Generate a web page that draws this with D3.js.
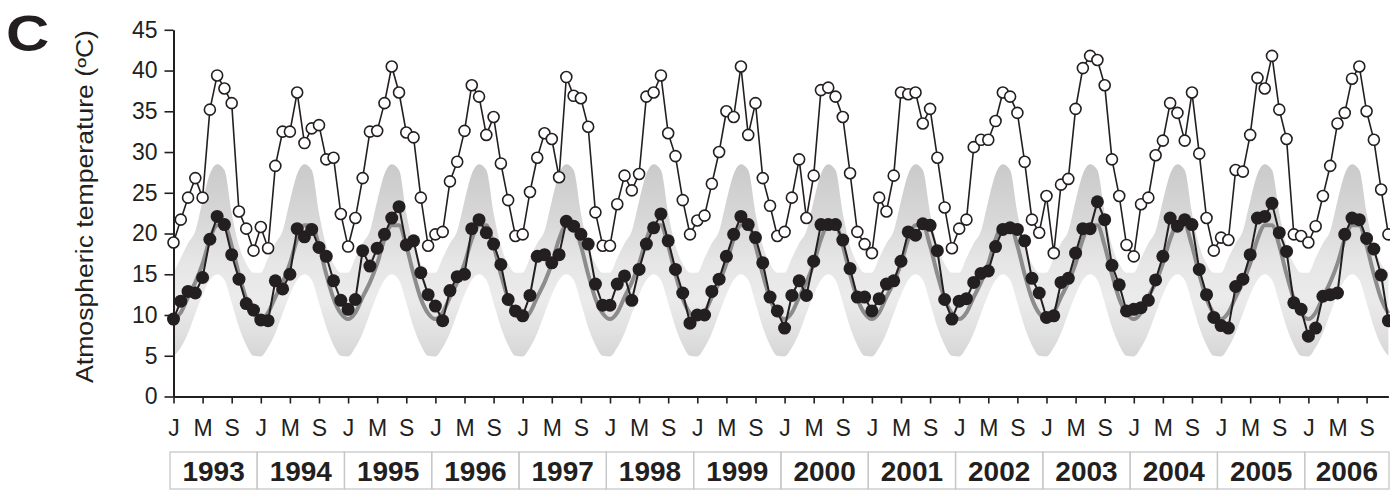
<!DOCTYPE html>
<html>
<head>
<meta charset="utf-8">
<script src="https://cdn.jsdelivr.net/npm/d3@7.9.0/dist/d3.min.js"></script>
<style>
  html, body { margin: 0; padding: 0; background: #fff; }
  svg { display: block; font-family: "Liberation Sans", Arial, Helvetica, sans-serif; }
</style>
</head>
<body>
<svg id="chart" width="1390" height="497"></svg>
<script>
const years = [1993, 1994, 1995, 1996, 1997, 1998, 1999, 2000, 2001, 2002, 2003, 2004, 2005, 2006];
const monthTicks = ['J', 'M', 'S']; // Jan, May, Sep

// monthly maximum temperature (open circles), Jan 1993 .. Dec 2006
const maxTemp = [
  18.9, 21.7, 24.4, 26.8, 24.4, 35.2, 39.4, 37.8, 36.0, 22.7, 20.6, 17.9,
  20.8, 18.2, 28.3, 32.5, 32.5, 37.3, 31.1, 32.9, 33.3, 29.1, 29.3, 22.4,
  18.4, 21.9, 26.8, 32.5, 32.6, 36.0, 40.5, 37.3, 32.4, 31.8, 24.4, 18.5,
  19.9, 20.2, 26.4, 28.8, 32.6, 38.2, 36.8, 32.1, 34.3, 28.6, 24.1, 19.7,
  19.9, 25.1, 29.3, 32.3, 31.6, 26.9, 39.2, 36.9, 36.6, 33.1, 22.6, 18.5,
  18.5, 23.6, 27.1, 25.3, 27.3, 36.8, 37.3, 39.4, 32.3, 29.5, 24.1, 19.9,
  21.6, 22.2, 26.1, 30.0, 35.0, 34.3, 40.5, 32.1, 36.0, 26.8, 23.4, 19.7,
  20.2, 24.4, 29.1, 21.9, 27.1, 37.6, 37.9, 36.8, 34.3, 27.4, 20.2, 18.7,
  17.6, 24.4, 22.7, 27.1, 37.3, 37.1, 37.3, 33.5, 35.3, 29.3, 23.2, 18.2,
  20.6, 21.7, 30.6, 31.5, 31.5, 33.8, 37.3, 36.8, 34.8, 28.8, 21.7, 20.1,
  24.6, 17.6, 26.0, 26.7, 35.3, 40.3, 41.8, 41.3, 38.2, 29.1, 24.6, 18.6,
  17.2, 23.6, 24.4, 29.6, 31.4, 36.0, 34.8, 31.4, 37.3, 29.8, 21.9, 17.9,
  19.5, 19.2, 27.8, 27.6, 32.1, 39.1, 37.8, 41.8, 35.2, 31.6, 19.9, 19.7,
  18.9, 20.9, 24.6, 28.3, 33.5, 34.8, 39.0, 40.5, 35.0, 31.5, 25.4, 19.9
];

// monthly mean temperature (filled circles)
const meanTemp = [
  9.5, 11.7, 12.9, 12.7, 14.6, 19.3, 22.1, 21.1, 17.4, 14.4, 11.4, 10.6,
  9.4, 9.3, 14.2, 13.2, 15.0, 20.6, 19.6, 20.5, 18.3, 17.2, 14.2, 11.8,
  10.7, 11.9, 17.9, 16.0, 18.2, 19.9, 21.9, 23.3, 18.6, 19.1, 15.2, 12.5,
  11.1, 9.3, 13.0, 14.7, 15.0, 20.6, 21.7, 20.1, 18.7, 16.2, 11.9, 10.5,
  9.9, 12.4, 17.2, 17.4, 16.4, 17.4, 21.5, 20.9, 19.9, 18.7, 13.8, 11.2,
  11.2, 13.8, 14.8, 11.8, 15.6, 18.7, 20.7, 22.4, 19.1, 15.6, 12.7, 9.0,
  10.0, 10.0, 12.9, 14.4, 17.2, 19.9, 22.1, 21.1, 19.5, 16.4, 12.2, 10.5,
  8.4, 12.4, 14.2, 12.4, 16.6, 21.1, 21.1, 21.1, 19.2, 15.7, 12.2, 12.2,
  10.5, 12.0, 13.8, 14.2, 16.6, 20.2, 19.8, 21.2, 21.0, 17.9, 11.9, 9.5,
  11.7, 12.0, 14.0, 15.1, 15.4, 18.4, 20.5, 20.7, 20.5, 19.1, 14.5, 12.7,
  9.7, 9.9, 14.0, 14.5, 17.6, 20.6, 20.6, 23.9, 21.7, 16.1, 13.7, 10.5,
  10.7, 10.9, 11.8, 14.3, 17.2, 21.9, 20.9, 21.7, 21.1, 15.6, 12.5, 9.7,
  8.7, 8.4, 13.5, 14.4, 17.4, 21.9, 22.1, 23.7, 20.1, 17.8, 11.5, 10.7,
  7.4, 8.4, 12.3, 12.5, 12.7, 19.9, 21.9, 21.7, 19.4, 18.1, 14.9, 9.3
];

// long-term monthly climatology (grey band and grey line), Jan .. Dec
const normalUpper = [15.2, 17.0, 18.8, 20.3, 24.0, 27.3, 28.5, 27.8, 22.5, 18.5, 16.3, 15.2];
const normalLower = [4.9, 6.0, 7.8, 10.2, 12.5, 14.3, 15.0, 14.3, 11.5, 8.5, 6.3, 5.0];
const normalMean = [9.5, 10.3, 12.2, 14.0, 16.3, 19.3, 21.0, 21.0, 18.5, 15.0, 12.0, 10.2];

const svg = d3.select('#chart');
const ink = '#231f20';

const x = d3.scaleLinear().domain([0, maxTemp.length - 1]).range([173.5, 1388.4]);
const y = d3.scaleLinear().domain([0, 45]).range([396.5, 29.8]);

const idx = d3.range(maxTemp.length);
const normal = idx.map(i => ({
  i,
  up: normalUpper[i % 12],
  lo: normalLower[i % 12],
  mean: normalMean[i % 12]
}));

// vertical grey gradient for the normal range
const grad = svg.append('defs').append('linearGradient')
  .attr('id', 'band')
  .attr('gradientUnits', 'userSpaceOnUse')
  .attr('x1', 0).attr('x2', 0)
  .attr('y1', y(29)).attr('y2', y(4));
[[0, '#c9c9c9'], [0.3, '#d8d8d8'], [0.5, '#e6e6e6'], [0.68, '#ebebeb'], [0.85, '#e0e0e0'], [1, '#d3d3d3']]
  .forEach(([o, c]) => grad.append('stop').attr('offset', o).attr('stop-color', c));

svg.append('path')
  .datum(normal)
  .attr('fill', 'url(#band)')
  .attr('d', d3.area()
    .x(d => x(d.i))
    .y0(d => y(d.lo))
    .y1(d => y(d.up))
    .curve(d3.curveMonotoneX));

svg.append('path')
  .datum(normal)
  .attr('fill', 'none')
  .attr('stroke', '#8c8c8c')
  .attr('stroke-width', 4)
  .attr('d', d3.line().x(d => x(d.i)).y(d => y(d.mean)).curve(d3.curveMonotoneX));

// axes
const yAxis = svg.append('g')
  .attr('transform', `translate(${x.range()[0]},0)`)
  .call(d3.axisLeft(y).tickValues(d3.range(0, 46, 5)).tickSize(9).tickSizeOuter(0).tickPadding(7));

const xAxis = svg.append('g')
  .attr('transform', `translate(0,${y(0)})`)
  .call(d3.axisBottom(x)
    .tickValues(d3.range(0, maxTemp.length, 4))
    .tickFormat(i => monthTicks[(i % 12) / 4])
    .tickSize(7).tickSizeOuter(0).tickPadding(16));

[yAxis, xAxis].forEach(g => {
  g.select('.domain').attr('stroke', ink).attr('stroke-width', 2);
  g.selectAll('.tick line').attr('stroke', ink).attr('stroke-width', 1.6);
  g.selectAll('.tick text').attr('fill', ink).style('font-size', '23px').style('font-family', 'inherit');
});

// series lines and points
function series(values, filled) {
  const pts = values.map((v, i) => ({ i, v }));
  svg.append('path')
    .datum(pts)
    .attr('fill', 'none')
    .attr('stroke', ink)
    .attr('stroke-width', filled ? 2 : 1.6)
    .attr('d', d3.line().x(d => x(d.i)).y(d => y(d.v)));
  svg.append('g').selectAll('circle')
    .data(pts)
    .join('circle')
    .attr('cx', d => x(d.i))
    .attr('cy', d => y(d.v))
    .attr('r', filled ? 6.5 : 5.5)
    .attr('fill', filled ? ink : '#fff')
    .attr('stroke', ink)
    .attr('stroke-width', filled ? 0 : 1.6);
}
series(maxTemp, false);
series(meanTemp, true);

// year boxes
const boxTop = 452, boxBottom = 489;
const yearG = svg.append('g');
years.forEach((yr, k) => {
  const x0 = Math.max(x(12 * k - 0.5), 170);
  const x1 = Math.min(x(12 * k + 11.5), 1389);
  yearG.append('rect')
    .attr('x', x0).attr('y', boxTop)
    .attr('width', x1 - x0).attr('height', boxBottom - boxTop)
    .attr('fill', 'none')
    .attr('stroke', '#c8c8c8')
    .attr('stroke-width', 1.3);
  yearG.append('text')
    .attr('x', (x0 + x1) / 2)
    .attr('y', 481)
    .attr('text-anchor', 'middle')
    .attr('fill', ink)
    .style('font-size', '28px')
    .style('font-weight', 'bold')
    .text(yr);
});

// y axis title
svg.append('text')
  .attr('transform', 'translate(93,206.5) rotate(-90)')
  .attr('text-anchor', 'middle')
  .attr('fill', ink)
  .attr('textLength', 353)
  .attr('lengthAdjust', 'spacingAndGlyphs')
  .style('font-size', '23px')
  .text('Atmospheric temperature (ºC)');

// panel letter
svg.append('text')
  .attr('transform', 'translate(6,51) scale(1.2,1)')
  .attr('fill', ink)
  .style('font-size', '50px')
  .style('font-weight', 'bold')
  .text('C');
</script>
</body>
</html>
